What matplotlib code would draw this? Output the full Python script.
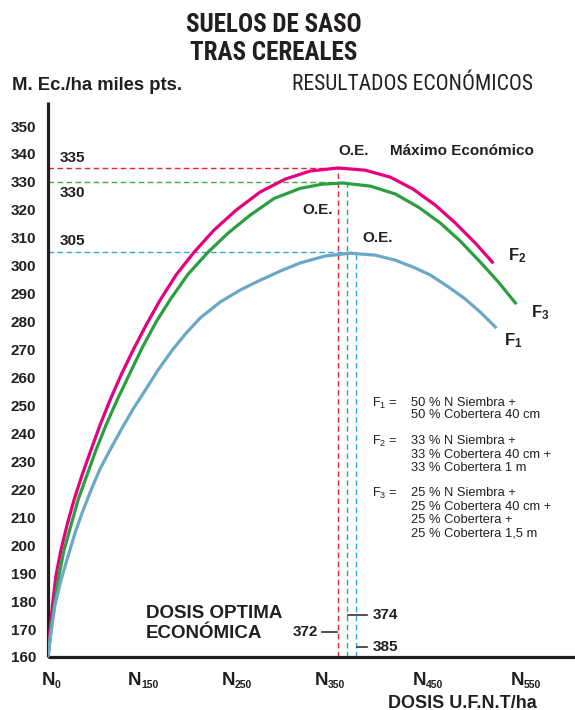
import matplotlib
matplotlib.use('Agg')
import matplotlib.pyplot as plt
from matplotlib import font_manager
from matplotlib.font_manager import FontProperties

# ---- data (x = position along the N axis, y = miles pts/ha) ----
dose_ticks = [0, 150, 250, 350, 450, 550]
tick_pos = [0, 1.0, 2.0, 3.0, 4.05, 5.1]
y_ticks = list(range(160, 351, 10))

# F2: 33 % siembra + 33 % 40 cm + 33 % 1 m
f2_x = [0, 0.021, 0.054, 0.086, 0.139, 0.204, 0.279, 0.365, 0.461, 0.558, 0.665, 0.783,
        0.912, 1.052, 1.202, 1.373, 1.567, 1.781, 2.017, 2.275, 2.543, 2.811, 3.112,
        3.401, 3.670, 3.916, 4.152, 4.367, 4.582, 4.764]
f2_y = [160, 169.7, 180.4, 189.3, 198.3, 207.2, 216.2, 225.1, 234.1, 243.0, 251.9, 260.9,
        269.8, 278.8, 287.7, 296.7, 304.9, 312.8, 319.9, 326.4, 331.0, 333.9, 335.0,
        334.2, 331.7, 327.4, 321.7, 315.3, 308.1, 301.3]
# F3: 25 % x 4
f3_x = [0, 0.032, 0.075, 0.118, 0.172, 0.247, 0.322, 0.418, 0.515, 0.622, 0.740, 0.869,
        1.009, 1.159, 1.320, 1.502, 1.717, 1.931, 2.167, 2.425, 2.704, 2.940, 3.165,
        3.455, 3.723, 3.970, 4.206, 4.421, 4.635, 4.828, 5.011]
f3_y = [160, 169.7, 180.4, 189.3, 198.3, 207.2, 216.2, 225.1, 234.1, 243.0, 251.9, 260.9,
        270.6, 279.9, 288.4, 297.0, 304.9, 311.7, 318.1, 324.1, 327.7, 329.2, 329.6,
        328.5, 325.7, 321.0, 315.3, 308.8, 301.3, 294.2, 286.7]
# F1: 50 % siembra + 50 % 40 cm
f1_x = [0, 0.032, 0.075, 0.139, 0.215, 0.290, 0.365, 0.461, 0.558, 0.665, 0.794, 0.912,
        1.030, 1.180, 1.341, 1.481, 1.631, 1.845, 2.060, 2.242, 2.489, 2.704, 2.972,
        3.240, 3.509, 3.723, 3.916, 4.099, 4.281, 4.474, 4.635, 4.796]
f1_y = [160, 168.9, 178.6, 187.5, 196.1, 204.4, 211.5, 219.7, 227.3, 234.1, 241.9, 248.7,
        254.8, 262.7, 270.2, 275.9, 281.3, 287.0, 291.3, 294.3, 298.1, 301.0, 303.5,
        304.5, 303.8, 302.0, 299.5, 296.7, 292.7, 288.1, 283.4, 278.1]

# optimo economico (red = F2, green = F3, blue = F1)
oe_value = [335, 330, 305]
oe_pos = [3.11, 3.21, 3.30]
oe_dose = [372, 374, 385]

legend_f = ['F$_{1}$ =', 'F$_{2}$ =', 'F$_{3}$ =']
legend_txt = [['50 % N Siembra +', '50 % Cobertera 40 cm'],
              ['33 % N Siembra +', '33 % Cobertera 40 cm +', '33 % Cobertera 1 m'],
              ['25 % N Siembra +', '25 % Cobertera 40 cm +', '25 % Cobertera +', '25 % Cobertera 1,5 m']]

# ---- style ----
plt.rcParams['font.family'] = ['Liberation Sans', 'DejaVu Sans']
plt.rcParams['mathtext.fontset'] = 'custom'
plt.rcParams['mathtext.rm'] = 'Liberation Sans'
plt.rcParams['mathtext.bf'] = 'Liberation Sans:bold'
plt.rcParams['mathtext.it'] = 'Liberation Sans:italic'


def narrow_font(bold):
    # look for an installed condensed face, else plain Liberation Sans
    prefs = ['LiberationSansNarrow', 'RobotoCondensed', 'OpenSansCondensed',
             'OpenSans_Condensed', 'DejaVuSansCondensed']
    found = {}
    for f in font_manager.fontManager.ttflist:
        fn = f.fname.replace('-', '').replace(' ', '').lower()
        for p in prefs:
            if p.lower() in fn:
                isbold = 'bold' in fn and 'italic' not in fn and 'oblique' not in fn
                isreg = not any(k in fn for k in ['bold', 'italic', 'oblique', 'light'])
                if (bold and isbold) or (not bold and isreg):
                    found.setdefault(p, f.fname)
    for p in prefs:
        if p in found:
            return FontProperties(fname=found[p])
    return FontProperties(family='Liberation Sans', weight='bold' if bold else 'normal')


ink = '#231f20'
curve_col = {'F2': '#e6007e', 'F3': '#2b9e40', 'F1': '#6aa8c6'}
dash_col = ['#e8262b', '#3aae49', '#2aa9e0']

W, H = 575, 710
fig = plt.figure(figsize=(W / 100, H / 100), dpi=100)
ax = fig.add_axes([48 / W, 53 / H, 527 / W, 555 / H])
ax.set_xlim(0, 5.65)
ax.set_ylim(160, 358.6)


def px(x, y):
    return x / W, 1 - y / H


for s in ['top', 'right']:
    ax.spines[s].set_visible(False)
for s in ['left', 'bottom']:
    ax.spines[s].set_linewidth(2.3)
    ax.spines[s].set_color(ink)
    ax.spines[s].set_capstyle('butt')

ax.set_yticks(y_ticks)
ax.set_yticklabels([str(v) for v in y_ticks], fontweight='bold', fontsize=11, color=ink)
ax.tick_params(axis='y', length=0, pad=8.5)
ax.set_xticks([])

# x labels: N with a small subscript dose
for p, d in zip(tick_pos, dose_ticks):
    sub = str(d)
    off = 5.0 if len(sub) == 1 else 0.3
    ax.annotate('N', xy=(p, 0), xycoords=('data', 'axes fraction'), xytext=(off, -17),
                textcoords='offset points', ha='right', va='center',
                fontsize=13.5, fontweight='bold', color=ink)
    ax.annotate(sub, xy=(p, 0), xycoords=('data', 'axes fraction'), xytext=(off, -20.5),
                textcoords='offset points', ha='left', va='center',
                fontsize=7.5, fontweight='bold', color=ink)

# dashed guides
dash = (0, (4, 2.5))
for v, p, c in zip(oe_value, oe_pos, dash_col):
    ax.plot([0, p], [v, v], ls=dash, lw=1.0, color=c, zorder=2)
    ax.plot([p, p], [160, v], ls=dash, lw=1.0, color=c, zorder=2)

# curves
ax.plot(f2_x, f2_y, color=curve_col['F2'], lw=2.3, zorder=3, solid_joinstyle='round')
ax.plot(f3_x, f3_y, color=curve_col['F3'], lw=2.3, zorder=3, solid_joinstyle='round')
ax.plot(f1_x, f1_y, color=curve_col['F1'], lw=2.3, zorder=3, solid_joinstyle='round')

# curve labels
for nm, xs, ys, off in [('2', f2_x, f2_y, (11, 5)), ('3', f3_x, f3_y, (11, -7)),
                        ('1', f1_x, f1_y, (6, -10))]:
    ax.annotate(r'$\mathbf{F}_{\mathbf{%s}}$' % nm, xy=(xs[-1], ys[-1]), xytext=off,
                textcoords='offset points', ha='left', va='center', fontsize=12, color=ink)

# value labels on the y side
for v, dy in zip(oe_value, [7.5, -8, 8]):
    ax.annotate(str(v), xy=(0, v), xytext=(8.6, dy), textcoords='offset points',
                ha='left', va='center', fontsize=11, fontweight='bold', color=ink)

# O.E. labels
bold = dict(fontsize=11, fontweight='bold', color=ink, textcoords='offset points', va='center')
ax.annotate('O.E.', xy=(oe_pos[0], oe_value[0]), xytext=(11.5, 12.2), ha='center', **bold)
ax.annotate('Máximo Económico', xy=(oe_pos[0], oe_value[0]), xytext=(37.4, 12.2),
            ha='left', **bold)
ax.annotate('O.E.', xy=(oe_pos[1], oe_value[1]), xytext=(-21.6, -20), ha='center', **bold)
ax.annotate('O.E.', xy=(oe_pos[2], oe_value[2]), xytext=(16, 10), ha='center', **bold)

# dose marks near the axis
mark_y = [168.9, 175.0, 163.6]
ax.plot([oe_pos[0] - 0.17, oe_pos[0] - 0.01], [mark_y[0]] * 2, color='#333333', lw=1.2)
ax.text(oe_pos[0] - 0.22, mark_y[0], str(oe_dose[0]), ha='right', va='center',
        fontsize=11, fontweight='bold', color=ink)
for i in (1, 2):
    ax.plot([oe_pos[i] + 0.01, 3.42], [mark_y[i]] * 2, color='#333333', lw=1.2)
    ax.text(3.48, mark_y[i], str(oe_dose[i]), ha='left', va='center',
            fontsize=11, fontweight='bold', color=ink)

fig.text(*px(146, 613), 'DOSIS OPTIMA', ha='left', va='center', fontsize=13.5,
         fontweight='bold', color=ink)
fig.text(*px(146, 633), 'ECONÓMICA', ha='left', va='center', fontsize=13.5,
         fontweight='bold', color=ink)

# legend block
rows = [[403, 415], [441, 455, 468], [493, 507, 520, 534]]
for f, lines, ys in zip(legend_f, legend_txt, rows):
    fig.text(*px(372, ys[0]), f, ha='left', va='center', fontsize=9.3, color=ink)
    for t, y in zip(lines, ys):
        fig.text(*px(411, y), t, ha='left', va='center', fontsize=9.3, color=ink)

# titles (condensed face, sized to the width they take in the original)
renderer = fig.canvas.get_renderer()


def fit_size(s, width, fp, size):
    fp = fp.copy()
    fp.set_size(size)
    t = fig.text(0, 0, s, fontproperties=fp)
    w = t.get_window_extent(renderer).width
    t.remove()
    return min(size * width / w, size * 1.12)


nb = narrow_font(True).copy()
nr = narrow_font(False).copy()
nb.set_size(fit_size('SUELOS DE SASO', 176, nb, 17.5))
nr.set_size(fit_size('RESULTADOS ECONÓMICOS', 241, nr, 14.5))
fig.text(*px(274, 25.5), 'SUELOS DE SASO', fontproperties=nb, color=ink,
         ha='center', va='center')
fig.text(*px(274, 53), 'TRAS CEREALES', fontproperties=nb, color=ink,
         ha='center', va='center')
fig.text(*px(292, 85), 'RESULTADOS ECONÓMICOS', fontproperties=nr, color=ink,
         ha='left', va='center')

fig.text(*px(12, 85), 'M. Ec./ha miles pts.', ha='left', va='center', fontsize=13.3,
         fontweight='bold', color=ink)
fig.text(*px(462, 703), 'DOSIS U.F.N.T/ha', ha='center', va='center', fontsize=13,
         fontweight='bold', color=ink)

fig.savefig('out.png', dpi=100)
